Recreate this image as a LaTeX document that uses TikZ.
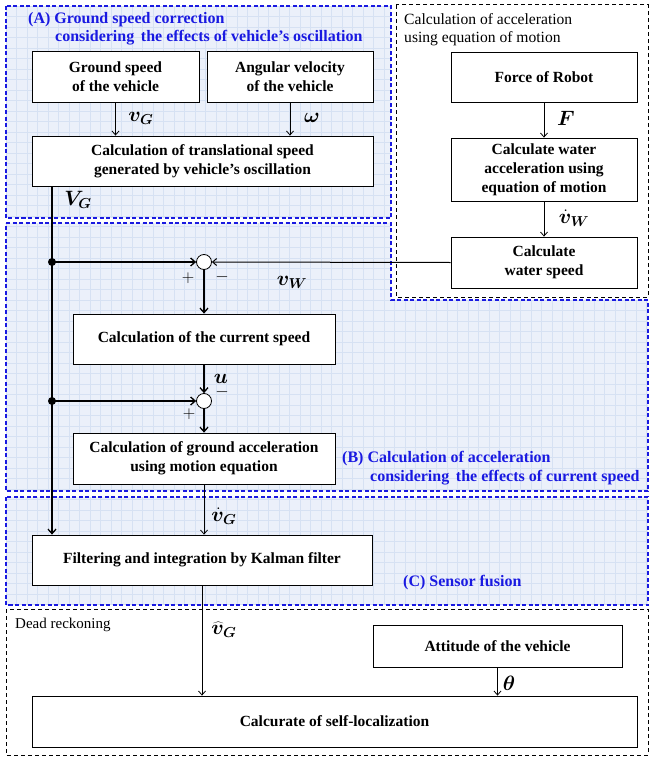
\documentclass[tikz,border=0pt]{standalone}
\usepackage{fontspec}
\setmainfont{Liberation Serif}
\usepackage{bm}
\usetikzlibrary{arrows.meta}
\definecolor{blu}{RGB}{25,25,225}
\definecolor{regfill}{RGB}{235,240,250}
\definecolor{gridc}{RGB}{214,225,243}
\tikzset{
  box/.style={draw, fill=white, line width=0.8pt, align=center, inner sep=0pt,
    font=\bfseries\fontsize{15.5}{19}\selectfont},
  conn/.style={line width=0.8pt, -{Straight Barb[length=4pt,width=7pt]}},
  tconn/.style={line width=1.3pt, -{Straight Barb[length=4.5pt,width=8pt]}},
  mlab/.style={font=\fontsize{22}{24}\selectfont, inner sep=0pt},
  sgn/.style={font=\fontsize{17}{17}\selectfont, inner sep=0pt},
  bluedash/.style={draw=blu, line width=1.2pt, dash pattern=on 4pt off 2.5pt},
  blackdash/.style={draw=black, line width=1pt, dash pattern=on 4pt off 3pt},
  rtitle/.style={text=blu, font=\bfseries\fontsize{16}{18}\selectfont, anchor=west, inner sep=0pt},
  plain/.style={font=\fontsize{15.6}{18}\selectfont, anchor=west, inner sep=0pt},
  sumj/.style={circle, draw, fill=white, line width=0.8pt, minimum size=15pt, inner sep=0pt},
  jdot/.style={circle, fill=black, minimum size=8pt, inner sep=0pt},
}
\begin{document}
\begin{tikzpicture}[x=1pt, y=-1pt]
\useasboundingbox (0,0) rectangle (650,760);
% region fills with grid
\fill[regfill] (6,6) rectangle (391,218);
\fill[regfill] (6,223) -- (391,223) -- (391,300) -- (648,300) -- (648,491) -- (6,491) -- cycle;
\fill[regfill] (6,497) rectangle (648,605);
\begin{scope}
  \clip (6,6) rectangle (391,218)
        (6,223) -- (391,223) -- (391,300) -- (648,300) -- (648,491) -- (6,491) -- cycle
        (6,497) rectangle (648,605);
  \foreach \i in {0,...,62} { \draw[gridc, line width=0.7pt] (6+10.5*\i,0) -- (6+10.5*\i,760); }
  \foreach \i in {0,...,73} { \draw[gridc, line width=0.7pt] (0,6+10.5*\i) -- (650,6+10.5*\i); }
\end{scope}
% region outlines
\draw[bluedash] (6,6) rectangle (391,218);
\draw[bluedash] (6,223) -- (391,223) -- (391,300) -- (648,300) -- (648,491) -- (6,491) -- cycle;
\draw[bluedash] (6,497) rectangle (648,605);
\draw[blackdash] (396,5) rectangle (648,297);
\draw[blackdash] (6,609) rectangle (648,755);
% region titles
\node[rtitle] (tA1) at (28,20) {(A) Ground speed correction};
\node[rtitle] (tA2) at (55,38) {considering\, the effects of vehicle’s oscillation};
\node[rtitle] (tB1) at (342,459) {(B) Calculation of acceleration};
\node[rtitle] (tB2) at (370,478) {considering\, the effects of current speed};
\node[rtitle] (tC) at (403,583) {(C) Sensor fusion};
\node[plain] (tE1) at (404,19) {Calculation of acceleration};
\node[plain] (tE2) at (404,39) {using equation of motion};
\node[plain, font=\fontsize{15}{17}\selectfont] (tD) at (15,625) {Dead reckoning};
% boxes
\node[box, minimum width=167pt, minimum height=51pt] (gs) at (115.5,76.5) {Ground speed\\of the vehicle};
\node[box, minimum width=166pt, minimum height=51pt] (av) at (290,76.5) {Angular velocity\\of the vehicle};
\node[box, minimum width=341pt, minimum height=50pt] (tr) at (202.5,161) {Calculation of translational speed\\generated by vehicle’s oscillation};
\node[box, minimum width=186pt, minimum height=50pt] (fr) at (544,77) {Force of Robot};
\node[box, minimum width=186pt, minimum height=63pt] (wa) at (544,169.5) {Calculate water\\acceleration using\\equation of motion};
\node[box, minimum width=186pt, minimum height=51pt] (ws) at (544,262.5) {Calculate\\water speed};
\node[box, minimum width=262pt, minimum height=50pt] (cu) at (204,339) {Calculation of the current speed};
\node[box, minimum width=262pt, minimum height=51pt] (ga) at (204,458.5) {Calculation of ground acceleration\\using motion equation};
\node[box, minimum width=340pt, minimum height=50pt] (kf) at (202,560) {Filtering and integration by Kalman filter};
\node[box, minimum width=249pt, minimum height=42pt] (at) at (497.5,646) {Attitude of the vehicle};
\node[box, minimum width=605pt, minimum height=51pt] (sl) at (334.5,721.5) {Calcurate of self-localization};
% junctions
\node[sumj] (j1) at (204,262) {};
\node[sumj] (j2) at (204,401) {};
\node[jdot] (d1) at (52,262) {};
\node[jdot] (d2) at (52,401) {};
% connectors
\draw[conn] (gs.south) -- (gs.south |- tr.north);
\draw[conn] (av.south) -- (av.south |- tr.north);
\draw[conn] (fr.south) -- (wa.north);
\draw[conn] (wa.south) -- (ws.north);
\draw[line width=1.3pt] (tr.south -| d1) -- (d1.center) -- (d2.center);
\draw[tconn] (d2.center) -- (kf.north -| d2);
\draw[tconn] (d1.center) -- (j1.west);
\draw[conn, line width=1pt] (ws.west) -- (j1.east);
\draw[tconn] (j1.south) -- (cu.north);
\draw[tconn] (cu.south) -- (j2.north);
\draw[tconn] (d2.center) -- (j2.west);
\draw[tconn] (j2.south) -- (ga.north);
\draw[conn] (ga.south) -- (ga.south |- kf.north);
\draw[conn] (kf.south) -- (kf.south |- sl.north);
\draw[conn] (at.south) -- (at.south |- sl.north);
% labels
\node[mlab] (lvg) at (141,118) {$\bm{v}_{\bm{G}}$};
\node[mlab] (lom) at (312,118) {$\bm{\omega}$};
\node[mlab] (lVG) at (78,200) {$\bm{V}_{\bm{G}}$};
\node[mlab] (lF) at (566,118) {$\bm{F}$};
\node[mlab] (lvw) at (574,218) {$\dot{\bm{v}}_{\bm{W}}$};
\node[mlab] (lvW) at (292,282) {$\bm{v}_{\bm{W}}$};
\node[mlab] (lu) at (221,379) {$\bm{u}$};
\node[mlab] (lvgd) at (224,516) {$\dot{\bm{v}}_{\bm{G}}$};
\node[mlab] (lvgh) at (224,630) {$\widehat{\bm{v}}_{\bm{G}}$};
\node[mlab] (lth) at (509,683) {$\bm{\theta}$};
\node[sgn] (p1) at (188,278) {$+$};
\node[sgn] (m1) at (222,277) {$-$};
\node[sgn] (m2) at (222,392) {$-$};
\node[sgn] (p2) at (189,414) {$+$};
\end{tikzpicture}
\end{document}
